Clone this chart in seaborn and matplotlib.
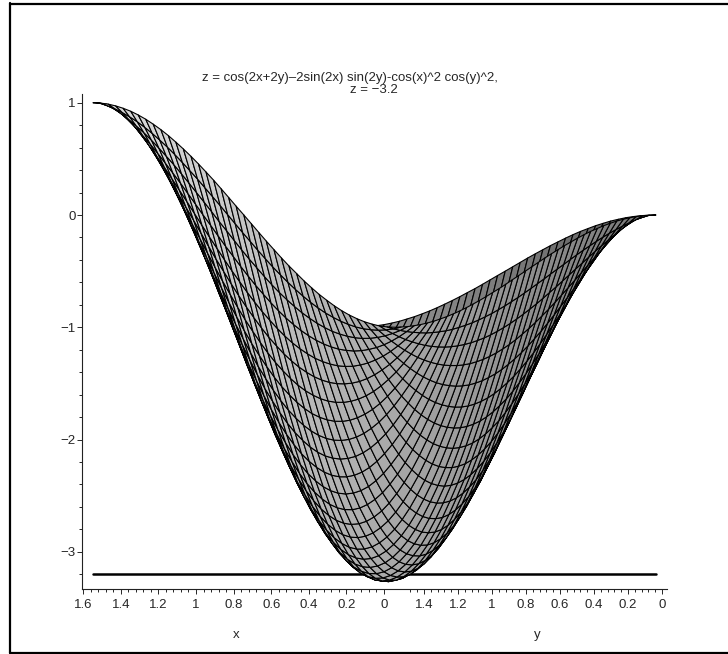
import numpy as np
import matplotlib
matplotlib.use("Agg")
import matplotlib.pyplot as plt
import seaborn as sns
from matplotlib.collections import PolyCollection
from matplotlib.lines import Line2D

# mesh lines along x and along y (radians)
grid_lines = [0, 0.039, 0.079, 0.118, 0.157, 0.196, 0.236, 0.275, 0.314, 0.353, 0.393,
              0.432, 0.471, 0.510, 0.550, 0.589, 0.628, 0.668, 0.707, 0.746, 0.785,
              0.825, 0.864, 0.903, 0.942, 0.982, 1.021, 1.060, 1.100, 1.139, 1.178,
              1.217, 1.257, 1.296, 1.335, 1.374, 1.414, 1.453, 1.492, 1.532, 1.571]

# surface height in thousandths, lower triangle only (the surface is the same with x and y swapped)
z_rows = [
    [0],
    [-2,-22],
    [-6,-44,-86],
    [-14,-70,-129,-191],
    [-24,-99,-175,-254,-334],
    [-38,-130,-223,-318,-415,-511],
    [-54,-163,-273,-384,-496,-608,-718],
    [-74,-198,-324,-450,-577,-703,-828,-950],
    [-95,-235,-376,-517,-658,-797,-935,-1069,-1200],
    [-120,-274,-429,-583,-738,-890,-1039,-1185,-1326,-1462],
    [-146,-314,-482,-649,-816,-980,-1140,-1296,-1447,-1591,-1729],
    [-175,-355,-535,-714,-892,-1066,-1237,-1402,-1561,-1714,-1858,-1993],
    [-206,-397,-588,-778,-965,-1149,-1329,-1502,-1669,-1828,-1978,-2119,-2248],
    [-239,-440,-641,-840,-1036,-1228,-1415,-1596,-1769,-1934,-2089,-2234,-2367,-2487],
    [-273,-483,-692,-900,-1103,-1303,-1496,-1683,-1861,-2031,-2190,-2337,-2473,-2595,-2704],
    [-309,-526,-743,-957,-1167,-1372,-1571,-1762,-1945,-2118,-2279,-2429,-2566,-2690,-2798,-2892],
    [-345,-569,-792,-1011,-1226,-1436,-1639,-1834,-2019,-2194,-2358,-2509,-2646,-2770,-2878,-2970,-3046],
    [-383,-612,-839,-1062,-1281,-1494,-1699,-1896,-2084,-2260,-2424,-2575,-2712,-2835,-2942,-3032,-3106,-3162],
    [-422,-654,-884,-1110,-1331,-1546,-1753,-1950,-2138,-2314,-2478,-2628,-2764,-2885,-2989,-3077,-3148,-3201,-3236],
    [-461,-695,-926,-1154,-1376,-1591,-1798,-1995,-2182,-2357,-2520,-2668,-2802,-2920,-3021,-3106,-3173,-3222,-3253,-3266],
    [-500,-735,-966,-1193,-1415,-1629,-1835,-2031,-2216,-2388,-2548,-2694,-2824,-2939,-3037,-3117,-3180,-3225,-3252,-3260,-3250],
    [-539,-773,-1003,-1229,-1448,-1660,-1863,-2056,-2238,-2408,-2564,-2705,-2831,-2942,-3035,-3112,-3170,-3211,-3233,-3236,-3221,-3188],
    [-578,-810,-1037,-1260,-1476,-1684,-1883,-2072,-2250,-2415,-2566,-2703,-2824,-2929,-3018,-3089,-3142,-3178,-3195,-3194,-3174,-3136,-3080],
    [-617,-844,-1068,-1286,-1497,-1701,-1895,-2078,-2250,-2409,-2555,-2686,-2801,-2901,-2984,-3049,-3097,-3127,-3139,-3133,-3109,-3066,-3006,-2929],
    [-655,-877,-1095,-1307,-1513,-1710,-1897,-2074,-2240,-2392,-2531,-2655,-2764,-2857,-2934,-2993,-3035,-3060,-3066,-3055,-3026,-2979,-2915,-2835,-2737],
    [-691,-907,-1118,-1324,-1522,-1711,-1891,-2060,-2218,-2363,-2494,-2611,-2712,-2798,-2868,-2920,-2956,-2975,-2976,-2960,-2926,-2875,-2808,-2724,-2624,-2509],
    [-727,-935,-1138,-1335,-1524,-1705,-1876,-2037,-2185,-2322,-2444,-2553,-2646,-2724,-2786,-2832,-2861,-2874,-2869,-2848,-2810,-2755,-2684,-2598,-2496,-2380,-2250],
    [-761,-960,-1153,-1341,-1520,-1691,-1853,-2003,-2142,-2269,-2382,-2481,-2566,-2636,-2690,-2728,-2750,-2756,-2746,-2720,-2677,-2619,-2545,-2457,-2354,-2237,-2107,-1965],
    [-794,-982,-1165,-1341,-1510,-1670,-1820,-1960,-2089,-2205,-2308,-2397,-2473,-2533,-2579,-2610,-2625,-2624,-2608,-2577,-2530,-2468,-2392,-2302,-2198,-2081,-1952,-1811,-1661],
    [-825,-1001,-1173,-1337,-1494,-1642,-1780,-1908,-2025,-2130,-2222,-2301,-2366,-2418,-2455,-2477,-2485,-2478,-2456,-2420,-2369,-2304,-2225,-2134,-2029,-1913,-1786,-1648,-1500,-1344],
    [-854,-1018,-1176,-1327,-1471,-1606,-1732,-1847,-1951,-2044,-2125,-2193,-2248,-2290,-2318,-2332,-2332,-2318,-2290,-2249,-2195,-2127,-2046,-1954,-1850,-1734,-1609,-1474,-1331,-1180,-1021],
    [-880,-1031,-1175,-1312,-1442,-1563,-1675,-1777,-1869,-1949,-2018,-2074,-2118,-2150,-2168,-2174,-2166,-2146,-2113,-2067,-2008,-1938,-1856,-1763,-1659,-1546,-1423,-1293,-1154,-1009,-858,-701],
    [-905,-1040,-1170,-1292,-1407,-1514,-1612,-1700,-1777,-1844,-1900,-1945,-1978,-1999,-2008,-2005,-1990,-1962,-1923,-1873,-1811,-1738,-1655,-1562,-1460,-1349,-1230,-1104,-971,-832,-689,-541,-391],
    [-926,-1047,-1161,-1268,-1367,-1458,-1541,-1614,-1678,-1731,-1774,-1806,-1828,-1838,-1837,-1825,-1802,-1769,-1724,-1669,-1604,-1530,-1446,-1353,-1253,-1145,-1030,-909,-782,-651,-516,-378,-239,-97],
    [-946,-1050,-1147,-1238,-1321,-1397,-1464,-1522,-1571,-1610,-1640,-1659,-1669,-1668,-1658,-1637,-1606,-1566,-1516,-1457,-1389,-1313,-1229,-1137,-1039,-934,-824,-709,-589,-467,-341,-214,-85,44,173],
    [-962,-1049,-1130,-1204,-1271,-1330,-1380,-1423,-1457,-1482,-1498,-1504,-1502,-1491,-1470,-1441,-1402,-1355,-1300,-1238,-1167,-1090,-1005,-915,-820,-719,-614,-505,-394,-280,-164,-48,69,185,300,413],
    [-976,-1045,-1109,-1165,-1215,-1257,-1291,-1318,-1336,-1347,-1349,-1343,-1328,-1306,-1276,-1237,-1192,-1139,-1079,-1012,-939,-861,-777,-689,-596,-500,-401,-299,-196,-92,13,118,222,325,425,523,617],
    [-986,-1038,-1084,-1123,-1155,-1180,-1197,-1208,-1211,-1206,-1195,-1175,-1149,-1116,-1075,-1029,-976,-917,-852,-782,-707,-628,-545,-459,-370,-279,-186,-92,2,97,190,283,374,462,548,630,708,782],
    [-994,-1028,-1055,-1076,-1090,-1098,-1099,-1093,-1080,-1061,-1036,-1003,-965,-921,-871,-816,-756,-691,-622,-549,-472,-393,-312,-228,-143,-58,29,114,200,284,366,446,523,596,667,733,794,851,902],
    [-998,-1014,-1023,-1026,-1022,-1013,-997,-974,-946,-912,-873,-828,-778,-723,-663,-600,-533,-463,-389,-314,-236,-157,-77,3,84,164,242,320,395,468,538,605,668,727,781,831,875,914,948,975],
    [-1000,-997,-988,-972,-951,-924,-891,-853,-809,-760,-707,-649,-588,-522,-454,-383,-309,-233,-156,-78,0,78,156,233,309,383,454,522,588,649,707,760,809,853,891,924,951,972,988,997,1000],
]

plane_z = -3.2
x_ticks = [1.6, 1.4, 1.2, 1, 0.8, 0.6, 0.4, 0.2, 0]
y_ticks = [1.4, 1.2, 1, 0.8, 0.6, 0.4, 0.2, 0]
x_labels = ["1.6", "1.4", "1.2", "1", "0.8", "0.6", "0.4", "0.2", "0"]
y_labels = ["1.4", "1.2", "1", "0.8", "0.6", "0.4", "0.2", "0"]
z_ticks = [1, 0, -1, -2, -3]
z_labels = ["1", "0", "\u22121", "\u22122", "\u22123"]
title_1 = "z = cos(2x+2y)\u20132sin(2x) sin(2y)-cos(x)^2 cos(y)^2,"
title_2 = "z = \u22123.2"

sns.set_style("white")
plt.rcParams['font.family'] = ['Liberation Sans', 'DejaVu Sans']

W, H = 728, 654
fig = plt.figure(figsize=(W / 100, H / 100), dpi=100)
ax = fig.add_axes([82 / W, 1 - 589 / H, (667 - 82) / W, (589 - 94) / H])
ax.set_xlim(82, 667)
ax.set_ylim((215 - 589) / 112.25, (215 - 94) / 112.25)

#%% surface, seen almost along the x=y diagonal

grid = np.array(grid_lines)
n = len(grid)
Z = np.zeros((n, n))
for i, row in enumerate(z_rows):
    Z[i, :i + 1] = np.array(row) / 1000
    Z[:i + 1, i] = np.array(row) / 1000
X, Y = np.meshgrid(grid, grid, indexing="ij")
U = 656 - 192 * X - 166.4 * Y

sns.lineplot(x=[U.min(), U.max()], y=[plane_z, plane_z], color="black", lw=1.8, ax=ax, zorder=1)

polys, cols, depth = [], [], []
for i in range(n - 1):
    for j in range(n - 1):
        polys.append([(U[i, j], Z[i, j]), (U[i + 1, j], Z[i + 1, j]),
                      (U[i + 1, j + 1], Z[i + 1, j + 1]), (U[i, j + 1], Z[i, j + 1])])
        g = 243 - 0.19 * U[i:i + 2, j:j + 2].mean() - (25 if i > j else 0)
        g = min(g, 215) / 255
        cols.append((g, g, g))
        depth.append(grid[j] - grid[i])
order = np.argsort(depth)
ax.add_collection(PolyCollection([polys[k] for k in order],
                                 facecolors=[cols[k] for k in order],
                                 edgecolors="black", linewidths=0.8, zorder=2))

#%% axes: x and y share the bottom line

x_pos = [384 - 188 * v for v in x_ticks]
y_pos = [662 - 170 * v for v in y_ticks]
ax.set_xticks(x_pos + y_pos, labels=x_labels + y_labels)
ax.set_xticks(list(384 - 188 * np.arange(0, 1.61, 0.04)) + list(662 - 170 * np.arange(0, 1.5, 0.04)), minor=True)
ax.set_yticks(z_ticks, labels=z_labels)
ax.set_yticks(np.arange(-3.2, 1.01, 0.2), minor=True)
ax.tick_params(axis="x", which="major", length=3.5, width=0.7, labelsize=9.5, pad=3.5, bottom=True)
ax.tick_params(axis="y", which="major", length=3.6, width=0.7, labelsize=9.5, pad=1, left=True)
ax.tick_params(axis="both", which="minor", length=2, width=0.7, bottom=True, left=True)
sns.despine(ax=ax)
for s in ("left", "bottom"):
    ax.spines[s].set_linewidth(0.8)
    ax.spines[s].set_color("#222222")

fs = 9.5
fig.text(350 / W, 1 - 78 / H, title_1, ha="center", va="center", fontsize=fs)
fig.text(374 / W, 1 - 90 / H, title_2, ha="center", va="center", fontsize=fs)
fig.text(236 / W, 1 - 635 / H, "x", ha="center", va="center", fontsize=fs)
fig.text(537 / W, 1 - 635 / H, "y", ha="center", va="center", fontsize=fs)

# outer frame, open on the right
for xs, ys in [([10, 10], [3, 653]), ([10, W], [3.5, 3.5]), ([10, W], [653, 653])]:
    fig.add_artist(Line2D([v / W for v in xs], [1 - v / H for v in ys], color="black", lw=1.6,
                          transform=fig.transFigure))

fig.savefig("out.png", dpi=100)
